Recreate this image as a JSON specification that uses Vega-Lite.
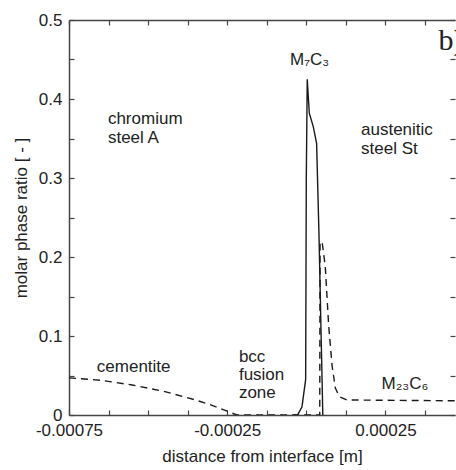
{
  "$schema": "https://vega.github.io/schema/vega-lite/v6.json",
  "width": 386,
  "height": 395,
  "autosize": "none",
  "padding": {"left": 69, "top": 20, "right": 1, "bottom": 55},
  "background": "white",
  "config": {
    "view": {"stroke": null},
    "font": "Liberation Sans",
    "axis": {"grid": false, "domainColor": "#444", "domainWidth": 1.5, "tickColor": "#444", "tickWidth": 1.2, "labelFont": "Liberation Sans", "titleFont": "Liberation Sans", "labelColor": "#222", "titleColor": "#222", "labelFontSize": 17, "titleFontSize": 17, "titleFontWeight": "normal"}
  },
  "datasets": {
    "curves": [
      {"phase": "M7C3", "i": 1, "x": -0.00004, "y": 0},
      {"phase": "M7C3", "i": 2, "x": -0.0000275, "y": 0},
      {"phase": "M7C3", "i": 3, "x": -0.0000136, "y": 0.0105},
      {"phase": "M7C3", "i": 4, "x": -0.000002, "y": 0.045},
      {"phase": "M7C3", "i": 5, "x": 0.0, "y": 0.3},
      {"phase": "M7C3", "i": 6, "x": 0.000003, "y": 0.425},
      {"phase": "M7C3", "i": 7, "x": 0.0000095, "y": 0.382},
      {"phase": "M7C3", "i": 8, "x": 0.000022, "y": 0.365},
      {"phase": "M7C3", "i": 9, "x": 0.0000326, "y": 0.344},
      {"phase": "M7C3", "i": 10, "x": 0.00004, "y": 0.23},
      {"phase": "M7C3", "i": 11, "x": 0.0000522, "y": 0},
      {"phase": "dashed", "i": 1, "x": -0.00075, "y": 0.047},
      {"phase": "dashed", "i": 2, "x": -0.00065, "y": 0.044},
      {"phase": "dashed", "i": 3, "x": -0.00055, "y": 0.038},
      {"phase": "dashed", "i": 4, "x": -0.00045, "y": 0.03},
      {"phase": "dashed", "i": 5, "x": -0.00035, "y": 0.019},
      {"phase": "dashed", "i": 6, "x": -0.0003, "y": 0.0125},
      {"phase": "dashed", "i": 7, "x": -0.00025, "y": 0.005},
      {"phase": "dashed", "i": 8, "x": -0.00022, "y": 0},
      {"phase": "dashed", "i": 9, "x": 0.0000425, "y": 0},
      {"phase": "dashed", "i": 10, "x": 0.0000435, "y": 0.219},
      {"phase": "dashed", "i": 11, "x": 0.00005, "y": 0.219},
      {"phase": "dashed", "i": 12, "x": 0.00006, "y": 0.188},
      {"phase": "dashed", "i": 13, "x": 0.0000706, "y": 0.114},
      {"phase": "dashed", "i": 14, "x": 0.0000813, "y": 0.063},
      {"phase": "dashed", "i": 15, "x": 0.0000918, "y": 0.034},
      {"phase": "dashed", "i": 16, "x": 0.000105, "y": 0.023},
      {"phase": "dashed", "i": 17, "x": 0.000129, "y": 0.019},
      {"phase": "dashed", "i": 18, "x": 0.00047, "y": 0.018}
    ],
    "labels": [
      {"text": "chromium", "x": -0.000627, "y": 0.368},
      {"text": "steel A", "x": -0.000627, "y": 0.344},
      {"text": "austenitic", "x": 0.000173, "y": 0.354},
      {"text": "steel St", "x": 0.000173, "y": 0.33},
      {"text": "M₇C₃", "x": -0.0000516, "y": 0.443},
      {"text": "cementite", "x": -0.000662, "y": 0.0548},
      {"text": "bcc", "x": -0.000213, "y": 0.0675},
      {"text": "fusion", "x": -0.000213, "y": 0.0443},
      {"text": "zone", "x": -0.000213, "y": 0.021},
      {"text": "M₂₃C₆", "x": 0.000238, "y": 0.033}
    ],
    "panel": [
      {"text": "b)", "x": 0.000418, "y": 0.462}
    ]
  },
  "resolve": {"axis": {"x": "independent", "y": "independent"}},
  "layer": [
    {
      "data": {"name": "curves"},
      "transform": [{"filter": "datum.phase == 'M7C3'"}],
      "mark": {"type": "line", "color": "#1a1a1a", "strokeWidth": 1.4, "clip": true},
      "encoding": {
        "x": {"field": "x", "type": "quantitative", "scale": {"domain": [-0.00075, 0.00047], "nice": false, "zero": false},
          "axis": {"orient": "bottom", "values": [-0.00075, -0.000625, -0.0005, -0.000375, -0.00025, -0.000125, 0, 0.000125, 0.00025, 0.000375],
            "tickSize": -5, "labelPadding": 12, "labelFlush": false,
            "labelExpr": "datum.value == -0.00075 ? '-0.00075' : datum.value == -0.00025 ? '-0.00025' : datum.value == 0.00025 ? '0.00025' : ''",
            "title": "distance from interface [m]", "titlePadding": 10}},
        "y": {"field": "y", "type": "quantitative", "scale": {"domain": [0, 0.5], "nice": false},
          "axis": {"orient": "left", "values": [0, 0.05, 0.1, 0.15, 0.2, 0.25, 0.3, 0.35, 0.4, 0.45, 0.5],
            "tickSize": -5, "labelPadding": 12,
            "labelExpr": "datum.value == 0 ? '0' : (round(datum.value * 20) % 2 == 0 ? format(datum.value, '.1f') : '')",
            "title": "molar phase ratio [ - ]", "titlePadding": 8}},
        "order": {"field": "i", "type": "quantitative"}
      }
    },
    {
      "data": {"name": "curves"},
      "transform": [{"filter": "datum.phase == 'dashed'"}],
      "mark": {"type": "line", "color": "#1a1a1a", "strokeWidth": 1.4, "strokeDash": [7, 5], "clip": true},
      "encoding": {
        "x": {"field": "x", "type": "quantitative",
          "axis": {"orient": "top", "values": [-0.00075, -0.000625, -0.0005, -0.000375, -0.00025, -0.000125, 0, 0.000125, 0.00025, 0.000375],
            "tickSize": -5, "labels": false, "title": null}},
        "y": {"field": "y", "type": "quantitative",
          "axis": {"orient": "right", "values": [0, 0.05, 0.1, 0.15, 0.2, 0.25, 0.3, 0.35, 0.4, 0.45, 0.5],
            "tickSize": -5, "labels": false, "title": null, "domain": false}},
        "order": {"field": "i", "type": "quantitative"}
      }
    },
    {
      "data": {"name": "labels"},
      "mark": {"type": "text", "fontSize": 17, "font": "Liberation Sans", "color": "#222", "baseline": "alphabetic", "align": "left"},
      "encoding": {
        "x": {"field": "x", "type": "quantitative", "axis": null},
        "y": {"field": "y", "type": "quantitative", "axis": null},
        "text": {"field": "text"}
      }
    },
    {
      "data": {"name": "panel"},
      "mark": {"type": "text", "fontSize": 30, "font": "Liberation Serif", "color": "#222", "baseline": "alphabetic", "align": "left"},
      "encoding": {
        "x": {"field": "x", "type": "quantitative", "axis": null},
        "y": {"field": "y", "type": "quantitative", "axis": null},
        "text": {"field": "text"}
      }
    }
  ]
}
